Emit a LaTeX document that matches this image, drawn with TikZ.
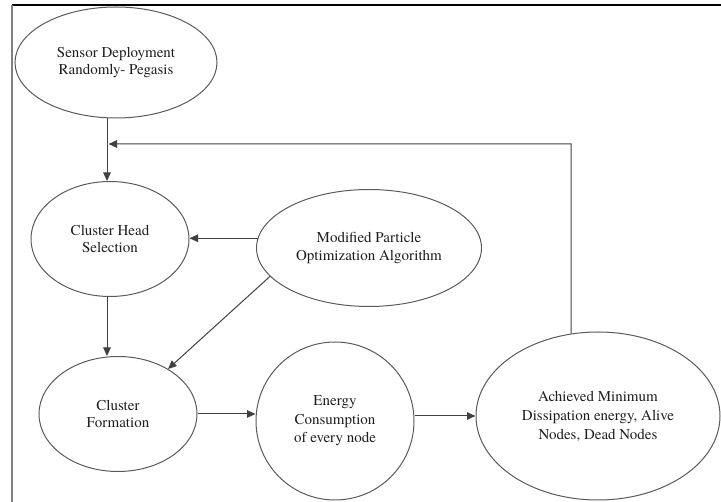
\documentclass[tikz,border=0pt]{standalone}
\usepackage{fontspec}
\newfontfamily\diagserif{texgyretermes-regular.otf}
\usetikzlibrary{shapes.geometric,arrows.meta,calc}
\definecolor{edgegray}{HTML}{5A5A5A}
\definecolor{linegray}{HTML}{404040}
\definecolor{txt}{HTML}{1E1E1E}
\tikzset{
  bubble/.style={ellipse, draw=edgegray, line width=1pt, inner sep=0pt,
    align=center, text=txt, font=\diagserif\fontsize{15}{17.5}\selectfont},
  arr/.style={draw=linegray, line width=1pt, -{Triangle[length=8.5pt,width=7.5pt]}},
  plain/.style={draw=linegray, line width=1pt}
}
\begin{document}
\begin{tikzpicture}[x=1pt,y=1pt]
\useasboundingbox (0,0) rectangle (721,-502);
% frame (top and left edges)
\coordinate (ftl) at (12,-5);
\coordinate (ftr) at (721,-5);
\coordinate (fbl) at (12,-502);
\draw[black, line width=1.2pt] (ftl) -- (ftr);
\draw[gray, line width=1.2pt] (ftl) -- (fbl);

% nodes
\node[bubble, minimum width=202pt, minimum height=111pt] (sensor) at (116,-62.5)
  {\raisebox{-4pt}{\begin{tabular}{@{}c@{}}Sensor Deployment\\Randomly- Pegasis\end{tabular}}};
\node[bubble, minimum width=158pt, minimum height=115pt] (ch) at (110,-239)
  {Cluster Head\\Selection};
\node[bubble, minimum width=225pt, minimum height=117pt] (mpoa) at (369,-248)
  {Modified Particle\\Optimization Algorithm};
\node[bubble, minimum width=158pt, minimum height=115pt] (cf) at (118,-414)
  {Cluster\\Formation};
\node[bubble, minimum width=158pt, minimum height=158pt, font=\diagserif\fontsize{15}{18.5}\selectfont] (energy) at (335,-421)
  {Energy\\Consumption\\of every node};
\node[bubble, minimum width=244pt, minimum height=168pt, font=\diagserif\fontsize{15}{19}\selectfont] (ach) at (598,-416)
  {Achieved Minimum\\Dissipation energy, Alive\\Nodes, Dead Nodes};

% helper coordinates for connector lanes
\coordinate (lane) at (107,0);
\coordinate (fbx) at (571,0);
\coordinate (fby) at (0,-144);

% connectors
\draw[arr] (sensor.south -| lane) -- (ch.north -| lane);
\draw[arr] (ch.south -| lane) -- (cf.north -| lane);
\draw[arr] (mpoa.175) -- (mpoa.175 -| ch.east);
\draw[arr] (mpoa.196) -- (cf.42);
\draw[arr] (cf.east) -- (cf.east -| energy.west);
\draw[arr] (ach.west -| energy.east) -- (ach.west);
\draw[arr] (ach.108) -- (fbx |- fby) -- ($(lane |- fby)+(1.5,0)$);
\end{tikzpicture}
\end{document}
